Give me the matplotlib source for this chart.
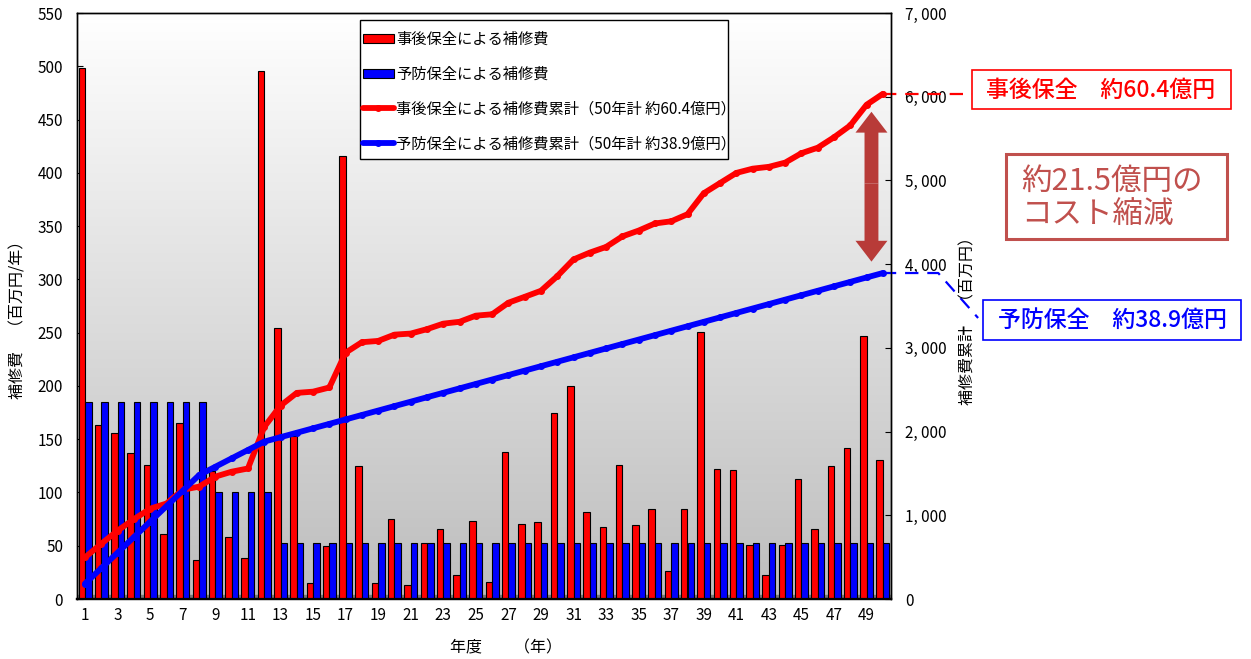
import numpy as np
import matplotlib
matplotlib.use("Agg")
import matplotlib.pyplot as plt
from matplotlib.colors import LinearSegmentedColormap
from matplotlib.patches import Rectangle, FancyArrowPatch
from matplotlib.ticker import FuncFormatter

plt.rcParams['font.family'] = ['Noto Sans CJK JP', 'DejaVu Sans']

# データ
years = np.arange(1, 51)
jigo = [498, 163, 156, 137, 125.5, 61, 165, 36.6, 120, 58.5,
        38.5, 496, 254, 153, 14.7, 49.7, 416, 125, 15.3, 75,
        12.8, 52.9, 65.7, 22.2, 73.2, 16.3, 138.3, 70.4, 72.3, 174.3,
        200, 81.7, 67.9, 125.8, 69.4, 84.8, 26, 84.5, 250.6, 121.7,
        121, 50.7, 22.2, 50.4, 112.3, 65.7, 124.5, 141.7, 246.8, 130.7]
yobou = [185] * 8 + [100] * 4 + [53] * 38
labels = ['事後保全による補修費', '予防保全による補修費',
          '事後保全による補修費累計（50年計 約60.4億円）',
          '予防保全による補修費累計（50年計 約38.9億円）']

jigo_cum = np.cumsum(jigo)
yobou_cum = np.cumsum(yobou)

W, H = 1251, 659
fig = plt.figure(figsize=(W / 100, H / 100), dpi=100)
ax = fig.add_axes([77 / W, 1 - 599 / H, (891 - 77) / W, (599 - 13) / H])
ax2 = ax.twinx()

# 背景グラデーション
cmap = LinearSegmentedColormap.from_list('bg', ['#bdbdbd', '#ffffff'])
grad = np.linspace(0, 1, 256).reshape(-1, 1)
ax.imshow(grad, extent=[0, 1, 0, 1], transform=ax.transAxes, aspect='auto',
          cmap=cmap, origin='lower', zorder=0)
ax.axhspan(0, 3.8, color='#7a7a7a', zorder=1)

b1 = ax.bar(years - 0.2, jigo, width=0.4, color='#ff0000', edgecolor='black', lw=0.8, zorder=3)
b2 = ax.bar(years + 0.2, yobou, width=0.4, color='#0000ff', edgecolor='black', lw=0.8, zorder=3)

l1, = ax2.plot(years, jigo_cum, color='#ff0000', lw=4.2, marker='o', ms=4,
               solid_capstyle='round', zorder=5)
l2, = ax2.plot(years, yobou_cum, color='#0000ff', lw=4.2, marker='o', ms=4,
               solid_capstyle='round', zorder=5)

ax.set_xlim(0.5, 50.5)
ax.set_ylim(0, 550)
ax2.set_ylim(0, 7000)
ax.set_yticks(range(0, 551, 50))
ax2.set_yticks(range(0, 7001, 1000))
ax2.yaxis.set_major_formatter(FuncFormatter(lambda v, p: '{:,.0f}'.format(v).replace(',', ', ')))
ax.set_xticks(years[::2])
ax.set_xticklabels([str(y) for y in years[::2]])
ax.tick_params(axis='x', length=0, pad=6, labelsize=11)
ax.tick_params(axis='y', direction='in', length=4, pad=10, labelsize=11)
ax2.tick_params(axis='y', direction='in', length=4, pad=10, labelsize=11)
for a in (ax, ax2):
    for s in a.spines.values():
        s.set_color('black')
        s.set_linewidth(1)
    a.spines['bottom'].set_linewidth(1.6)


def box(x0, y0, x1, y1, color, lw, z=1):
    fig.patches.append(Rectangle((x0 / W, 1 - y1 / H), (x1 - x0) / W, (y1 - y0) / H,
                                 transform=fig.transFigure, fill=True, facecolor='white',
                                 edgecolor=color, lw=lw, zorder=z))


# 凡例（枠は別に描く）
leg = ax2.legend([b1, b2, l1, l2], labels, loc='upper left',
                 bbox_to_anchor=(363 / W, 1 - 31 / H), bbox_transform=fig.transFigure,
                 borderaxespad=0, borderpad=0, frameon=False, fontsize=11,
                 labelspacing=1.16, handlelength=2.0, handleheight=0.55, handletextpad=0.15)
leg.set_zorder(20)
ax2.add_patch(Rectangle((360 / W, 1 - 159 / H), 368 / W, 139 / H, transform=fig.transFigure,
                        facecolor='white', edgecolor='black', lw=1, zorder=19, clip_on=False))

# 軸ラベル
fig.text(18 / W, 1 - 316 / H, '補修費　（百万円/年）', rotation=90, ha='center', va='center', fontsize=11.5)
fig.text(968 / W, 1 - 317 / H, '補修費累計　（百万円）', rotation=90, ha='center', va='center', fontsize=11.5)
fig.text(506 / W, 1 - 648 / H, '年度　　（年）', ha='center', va='center', fontsize=11.5)

# 差額の矢印
mid = (jigo_cum[-1] + yobou_cum[-1]) / 2
for end in (5820, 4030):
    ax2.add_patch(FancyArrowPatch((49.3, mid), (49.3, end),
                                  arrowstyle='simple,head_length=1.5,head_width=2.3,tail_width=1.0',
                                  mutation_scale=10, color='#b83b38', lw=0,
                                  shrinkA=0, shrinkB=0, zorder=6))

# 引き出し線
ax2.plot([50, 55.5], [jigo_cum[-1]] * 2, color='#ff0000', lw=1.6, dashes=(6, 4), clip_on=False)
ax2.plot([50, 53.4, 55.85], [yobou_cum[-1], yobou_cum[-1], 3357], color='#0000ff', lw=1.6,
         dashes=(6, 4), clip_on=False)

box(972, 70, 1231, 109, '#ff0000', 1.2)
fig.text(1101 / W, 1 - 90 / H, '事後保全　約60.4億円', color='#ff0000', ha='center', va='center',
         fontsize=16.5, fontweight='medium')
box(983, 300, 1241, 340, '#0000ff', 1.2)
fig.text(1112 / W, 1 - 320 / H, '予防保全　約38.9億円', color='#0000ff', ha='center', va='center',
         fontsize=16.5, fontweight='medium')
box(1006, 154, 1227, 239, '#c0504d', 2.2)
fig.text(1021 / W, 1 - 198 / H, '約21.5億円の\nコスト縮減', color='#c0504d', ha='left', va='center',
         fontsize=22, linespacing=1.12)

fig.savefig('out.png', dpi=100)
